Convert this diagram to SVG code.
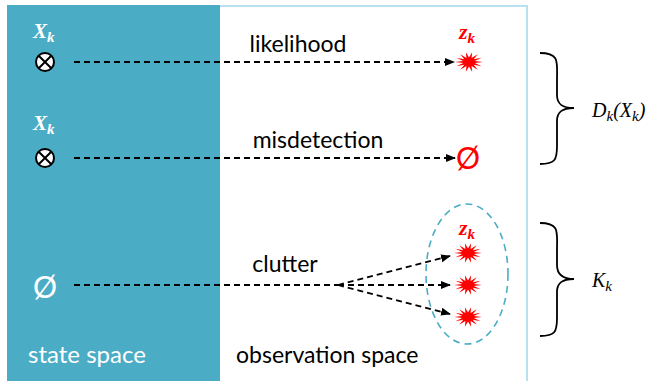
<svg xmlns="http://www.w3.org/2000/svg" width="648" height="381" viewBox="0 0 648 381">
<style>
.lbl{font-family:Lato,"Open Sans","Liberation Sans",sans-serif;font-size:23px;fill:#000}
.wl{font-family:Lato,"Open Sans","Liberation Sans",sans-serif;font-size:24px;fill:#fff}
.math{font-family:"Liberation Serif","DejaVu Serif",serif;font-style:italic}
.dash{stroke:#000;stroke-width:1.8;stroke-dasharray:6,4;fill:none}
.brace{stroke:#000;stroke-width:1.8;fill:none}
</style>
<defs>
<marker id="arr" markerWidth="10" markerHeight="10" refX="9" refY="5" orient="auto" markerUnits="userSpaceOnUse">
<path d="M0,1 L10,5 L0,9 Z" fill="#000"/>
</marker>
<polygon id="star" fill="#ff0000" points="14,0 5.8,1 12.6,4.3 4.7,2.8 8.7,7.8 2.6,4.1 3.1,9.8 0,4.5 -3.1,9.8 -2.6,4.1 -8.7,7.8 -4.7,2.8 -12.6,4.3 -5.8,1 -14,0 -5.8,-1 -12.6,-4.3 -4.7,-2.8 -8.7,-7.8 -2.6,-4.1 -3.1,-9.8 0,-4.5 3.1,-9.8 2.6,-4.1 8.7,-7.8 4.7,-2.8 12.6,-4.3 5.8,-1"/>
<g id="otimes">
<circle r="9" fill="#fff" stroke="#000" stroke-width="2"/>
<path d="M-6.3,-6.3 L6.3,6.3 M-6.3,6.3 L6.3,-6.3" stroke="#000" stroke-width="2"/>
</g>
</defs>
<rect width="648" height="381" fill="#fff"/>
<g id="state-space">
<rect x="7" y="5" width="213" height="376" fill="#4bacc6"/>
<text class="wl" x="28" y="363">state space</text>
</g>
<g id="observation-space">
<path d="M220,6 H527 V381" fill="none" stroke="#b9e0ee" stroke-width="2"/>
<text class="lbl" x="236" y="363" font-size="25">observation space</text>
</g>
<g id="x1">
<text class="math" x="33" y="38" font-size="21" font-weight="bold" fill="#fff">X<tspan font-size="15" dy="4">k</tspan></text>
<use href="#otimes" x="45" y="62"/>
</g>
<g id="x2">
<text class="math" x="33" y="130" font-size="21" font-weight="bold" fill="#fff">X<tspan font-size="15" dy="4">k</tspan></text>
<use href="#otimes" x="45" y="158"/>
</g>
<g id="empty-state">
<text x="45" y="298" font-family="Lato,'Open Sans','Liberation Sans',sans-serif" font-size="30" fill="#fff" text-anchor="middle">Ø</text>
</g>
<g id="z1">
<text class="math" x="459" y="39" font-size="22" font-weight="bold" fill="#ff0000">z<tspan font-size="15" dy="4">k</tspan></text>
<use href="#star" x="469" y="62"/>
</g>
<g id="empty-obs">
<text x="468" y="169" font-family="Lato,'Open Sans','Liberation Sans',sans-serif" font-size="30" fill="#ff0000" text-anchor="middle">Ø</text>
</g>
<g id="clutter-set">
<ellipse cx="467" cy="274" rx="41" ry="70" fill="none" stroke="#4bacc6" stroke-width="1.6" stroke-dasharray="7,5"/>
<text class="math" x="459" y="235" font-size="22" font-weight="bold" fill="#ff0000">z<tspan font-size="15" dy="4">k</tspan></text>
<use href="#star" x="468" y="253"/>
<use href="#star" x="468" y="285"/>
<use href="#star" x="468" y="317"/>
</g>
<g id="connectors">
<path class="dash" d="M74,62 H454" marker-end="url(#arr)"/>
<path class="dash" d="M74,158 H455" marker-end="url(#arr)"/>
<path class="dash" d="M74,285 H338"/>
<path class="dash" d="M338,285 L450,256" marker-end="url(#arr)"/>
<path class="dash" d="M338,285 H450" marker-end="url(#arr)"/>
<path class="dash" d="M338,285 L450,314" marker-end="url(#arr)"/>
<text class="lbl" x="298" y="52" text-anchor="middle">likelihood</text>
<text class="lbl" x="318" y="148" text-anchor="middle">misdetection</text>
<text class="lbl" x="285" y="272" text-anchor="middle">clutter</text>
</g>
<g id="brace-d">
<path class="brace" d="M540,53 C560,53 557,62 557,80 V95 C557,104 562,108 574,108 C562,108 557,112 557,121 V146 C557,160 555,164 540,164"/>
<text class="math" x="592" y="117" font-size="20">D<tspan font-size="15" dy="4">k</tspan><tspan dy="-4">(X</tspan><tspan font-size="15" dy="4">k</tspan><tspan dy="-4">)</tspan></text>
</g>
<g id="brace-k">
<path class="brace" d="M540,223 C560,223 557,232 557,250 V265 C557,274 562,279 574,279 C562,279 557,283 557,292 V318 C557,332 555,336 540,336"/>
<text class="math" x="592" y="287" font-size="20">K<tspan font-size="15" dy="4">k</tspan></text>
</g>
</svg>
